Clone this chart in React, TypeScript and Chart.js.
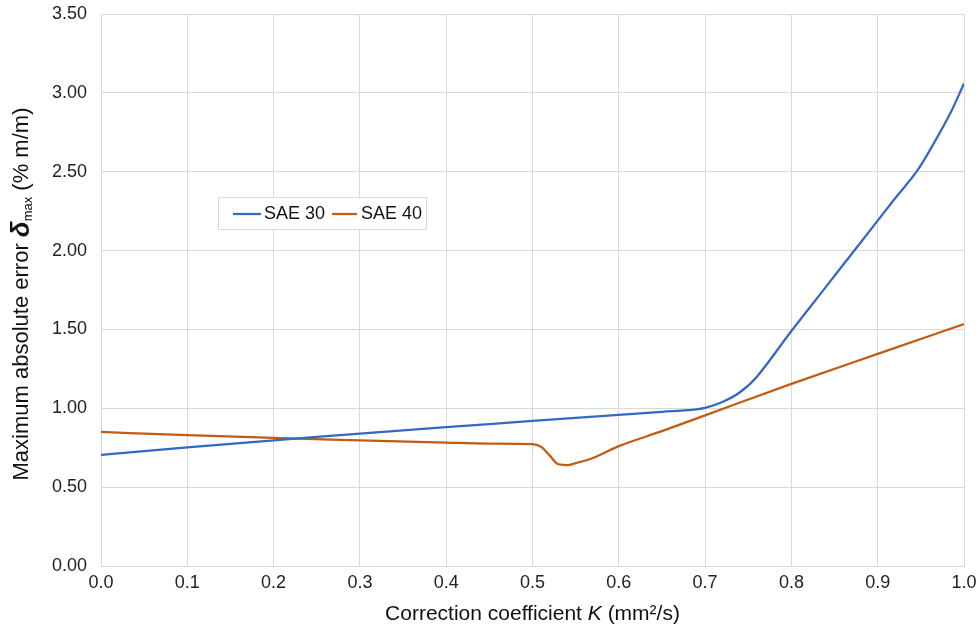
import React, { useEffect, useRef } from "react";
import { Chart, registerables } from "chart.js";

Chart.register(...registerables);

const sae30K = [0, 0.1, 0.2, 0.3, 0.4, 0.5, 0.6, 0.65, 0.68, 0.7, 0.72, 0.74, 0.76, 0.8, 0.84, 0.88, 0.92, 0.945, 0.965, 0.985, 1.0];
const sae30Values = [0.705, 0.752, 0.797, 0.84, 0.88, 0.92, 0.958, 0.978, 0.988, 1.003, 1.04, 1.1, 1.2, 1.49, 1.77, 2.05, 2.33, 2.5, 2.68, 2.88, 3.06];

const sae40K = [0, 0.1, 0.2, 0.3, 0.4, 0.45, 0.5, 0.51, 0.52, 0.53, 0.54, 0.55, 0.57, 0.6, 0.65, 0.7, 0.8, 0.9, 1.0];
const sae40Values = [0.85, 0.83, 0.812, 0.797, 0.782, 0.776, 0.773, 0.755, 0.7, 0.645, 0.64, 0.652, 0.685, 0.76, 0.855, 0.955, 1.155, 1.345, 1.534];

const seriesNames = ["SAE 30", "SAE 40"];
const seriesColors = ["#3469C1", "#C55A11"];

const FONT = "'Liberation Sans', Arial, sans-serif";

const overlayPlugin = {
  id: "overlay",
  afterDraw(chart: any) {
    const ctx = chart.ctx as CanvasRenderingContext2D;
    const area = chart.chartArea;
    ctx.save();
    // Legend box
    const bx = 218, by = 197, bw = 208, bh = 32;
    ctx.fillStyle = "#ffffff";
    ctx.fillRect(bx, by, bw, bh);
    ctx.strokeStyle = "#d9d9d9";
    ctx.lineWidth = 1;
    ctx.strokeRect(bx + 0.5, by + 0.5, bw, bh);
    ctx.font = `18px ${FONT}`;
    ctx.textBaseline = "middle";
    const ly = by + bh / 2 + 1;
    const items = [
      { x1: 233, x2: 261, tx: 264 },
      { x1: 332, x2: 357, tx: 361 },
    ];
    items.forEach((it, i) => {
      ctx.strokeStyle = seriesColors[i];
      ctx.lineWidth = 2.25;
      ctx.beginPath();
      ctx.moveTo(it.x1, ly);
      ctx.lineTo(it.x2, ly);
      ctx.stroke();
      ctx.fillStyle = "#111";
      ctx.textAlign = "left";
      ctx.fillText(seriesNames[i], it.tx, ly);
    });

    // X title
    const segX = [
      { t: "Correction coefficient ", f: `21px ${FONT}` },
      { t: "K", f: `italic 21px ${FONT}` },
      { t: " (mm²/s)", f: `21px ${FONT}` },
    ];
    let total = 0;
    segX.forEach((s) => { ctx.font = s.f; total += ctx.measureText(s.t).width; });
    let cx = (area.left + area.right) / 2 - total / 2;
    ctx.textAlign = "left";
    ctx.textBaseline = "middle";
    ctx.fillStyle = "#111";
    segX.forEach((s) => { ctx.font = s.f; ctx.fillText(s.t, cx, 614); cx += ctx.measureText(s.t).width; });

    // Y title (rotated)
    const segY = [
      { t: "Maximum absolute error ", f: `22px ${FONT}`, dy: 0 },
      { t: "δ", f: `italic bold 26px ${FONT}`, dy: 0 },
      { t: "max", f: `13px ${FONT}`, dy: 6 },
      { t: " (% m/m)", f: `22px ${FONT}`, dy: 0 },
    ];
    total = 0;
    segY.forEach((s) => { ctx.font = s.f; total += ctx.measureText(s.t).width; });
    ctx.translate(22, 294);
    ctx.rotate(-Math.PI / 2);
    let cy = -total / 2;
    segY.forEach((s) => { ctx.font = s.f; ctx.fillText(s.t, cy, s.dy); cy += ctx.measureText(s.t).width; });
    ctx.restore();
  },
};

export default function App() {
  const ref = useRef<HTMLCanvasElement>(null);
  useEffect(() => {
    document.body.style.margin = "0";
    const canvas = ref.current!;
    const chart = new Chart(canvas, {
      type: "line",
      data: {
        datasets: [
          {
            label: seriesNames[0],
            data: sae30K.map((k, i) => ({ x: k, y: sae30Values[i] })),
            borderColor: seriesColors[0],
            backgroundColor: seriesColors[0],
            borderWidth: 2.25,
            pointRadius: 0,
            tension: 0.35,
            fill: false,
          },
          {
            label: seriesNames[1],
            data: sae40K.map((k, i) => ({ x: k, y: sae40Values[i] })),
            borderColor: seriesColors[1],
            backgroundColor: seriesColors[1],
            borderWidth: 2.25,
            pointRadius: 0,
            cubicInterpolationMode: "monotone",
            fill: false,
          },
        ],
      },
      options: {
        responsive: false,
        animation: false,
        layout: { padding: { left: 0, right: 16, top: 14, bottom: 0 } },
        plugins: { legend: { display: false }, tooltip: { enabled: false } },
        scales: {
          x: {
            type: "linear",
            min: 0,
            max: 1,
            afterFit: (s: any) => { s.height = 62; s.paddingLeft = 0; s.paddingRight = 0; },
            ticks: {
              stepSize: 0.1,
              padding: 6,
              color: "#222",
              font: { family: FONT, size: 18 },
              callback: (v: any) => Number(v).toFixed(1),
            },
            grid: { color: "#d9d9d9", lineWidth: 1, drawTicks: false },
            border: { color: "#d9d9d9" },
          },
          y: {
            min: 0,
            max: 3.5,
            afterFit: (s: any) => { s.width = 101; s.paddingTop = 0; s.paddingBottom = 0; },
            ticks: {
              stepSize: 0.5,
              padding: 14,
              color: "#222",
              font: { family: FONT, size: 18 },
              callback: (v: any) => Number(v).toFixed(2),
            },
            grid: { color: "#d9d9d9", lineWidth: 1, drawTicks: false },
            border: { color: "#d9d9d9" },
          },
        },
      },
      plugins: [overlayPlugin],
    } as any);
    return () => chart.destroy();
  }, []);
  return <canvas ref={ref} width={980} height={628} style={{ display: "block" }} />;
}
